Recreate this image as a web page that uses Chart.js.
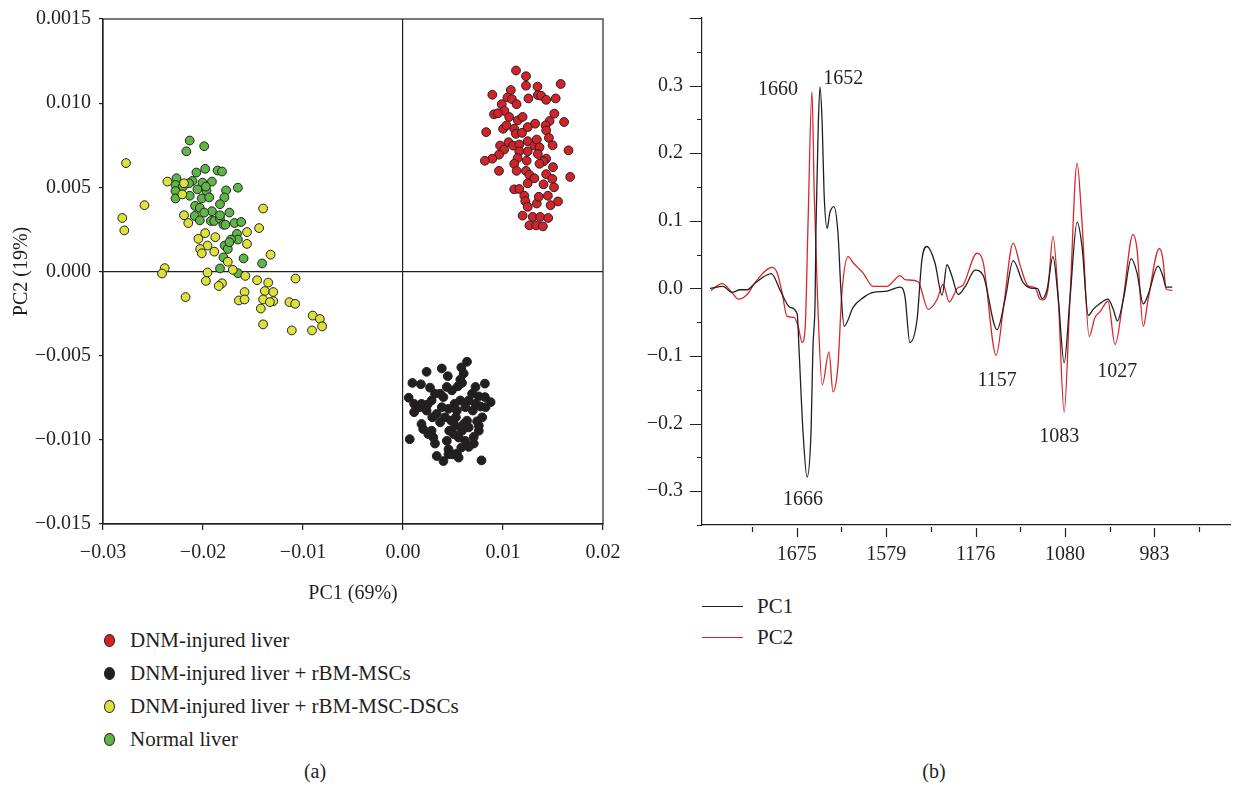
<!DOCTYPE html>
<html lang="en">

<head>
    <meta charset="utf-8">
    <title>PCA of FTIR spectra - scores and loadings</title>
    <script src="https://cdn.jsdelivr.net/npm/chart.js@4.4.1/dist/chart.umd.min.js"></script>
    <style>
        body {
            margin: 0;
            background: #fff;
            width: 1236px;
            height: 786px;
            position: relative;
            overflow: hidden;
            font-family: 'Liberation Serif', 'Times New Roman', serif;
            color: #231f20;
        }

        #pca {
            position: absolute;
            left: 0;
            top: 0;
        }

        #loadings {
            position: absolute;
            left: 640px;
            top: 0;
        }

        .legend {
            position: absolute;
            font-size: 21px;
        }

        .legend .row {
            height: 33px;
            line-height: 33px;
            display: flex;
            align-items: center;
            white-space: nowrap;
        }

        .dot {
            display: inline-block;
            width: 11px;
            height: 13px;
            border-radius: 50%;
            border: 1px solid #231f20;
            box-sizing: border-box;
            margin-right: 15px;
        }

        .swatch {
            display: inline-block;
            width: 41px;
            height: 0;
            border-top: 1.3px solid;
            margin-right: 14px;
        }

        .caption {
            position: absolute;
            top: 760px;
            font-size: 20px;
            width: 60px;
            text-align: center;
        }
    </style>
</head>

<body>
    <canvas id="pca" width="640" height="620"></canvas>
    <canvas id="loadings" width="596" height="580"></canvas>

    <div class="legend" id="pcaLegend" style="left:104px; top:624px;"></div>
    <div class="legend" id="loadLegend" style="left:702px; top:591px;"></div>

    <div class="caption" style="left:285px;">(a)</div>
    <div class="caption" style="left:904px;">(b)</div>

<script>
    // ---- panel (a): PCA scores ----
    const xTickVals = [-0.03, -0.02, -0.01, 0, 0.01, 0.02];
    const xTickLabels = ['\u22120.03', '\u22120.02', '\u22120.01', '0.00', '0.01', '0.02'];
    const yTickVals = [-0.015, -0.01, -0.005, 0, 0.005, 0.01, 0.015];
    const yTickLabels = ['\u22120.015', '\u22120.010', '\u22120.005', '0.000', '0.005', '0.010', '0.0015'];

    const groupNames = ['DNM-injured liver', 'DNM-injured liver + rBM-MSCs',
        'DNM-injured liver + rBM-MSC-DSCs', 'Normal liver'];

    const dnmInjured = [
        [0.0113, 0.01194], [0.0123, 0.0116], [0.0123, 0.01104], [0.01345, 0.01098], [0.01577, 0.01114],
        [0.00893, 0.0105], [0.01078, 0.01078], [0.01045, 0.01034], [0.01089, 0.01024], [0.01136, 0.00994],
        [0.01254, 0.01028], [0.01348, 0.01048], [0.01382, 0.01044], [0.01432, 0.0102], [0.01527, 0.01028],
        [0.00987, 0.00994], [0.01014, 0.00954], [0.0091, 0.00934], [0.0095, 0.0094], [0.01062, 0.00918],
        [0.01149, 0.00898], [0.01196, 0.00918], [0.01513, 0.00938], [0.01466, 0.00894], [0.01426, 0.00868],
        [0.01611, 0.00888], [0.00832, 0.00828], [0.01001, 0.00848], [0.01035, 0.00868], [0.01112, 0.00848],
        [0.01129, 0.00818], [0.0119, 0.00824], [0.01247, 0.00858], [0.01321, 0.00878], [0.01432, 0.00838],
        [0.01459, 0.00794], [0.01496, 0.0075], [0.00971, 0.00748], [0.01011, 0.00724], [0.01055, 0.00768],
        [0.01102, 0.00748], [0.01163, 0.00754], [0.01247, 0.00774], [0.01314, 0.00748], [0.01338, 0.00784],
        [0.01365, 0.00738], [0.01247, 0.00714], [0.01163, 0.00714], [0.0096, 0.00694], [0.00893, 0.0067],
        [0.00819, 0.00658], [0.01146, 0.00674], [0.01237, 0.00658], [0.01348, 0.00698], [0.01432, 0.0067],
        [0.01405, 0.00654], [0.01655, 0.0072], [0.01365, 0.0064], [0.01112, 0.0064], [0.01136, 0.00598],
        [0.0096, 0.00598], [0.0123, 0.00598], [0.01264, 0.00574], [0.01314, 0.00554], [0.01247, 0.00524],
        [0.01432, 0.00578], [0.015, 0.0062], [0.01493, 0.0055], [0.01405, 0.00518], [0.0151, 0.005],
        [0.01672, 0.00562], [0.01112, 0.00488], [0.01163, 0.0049], [0.01213, 0.0045], [0.01223, 0.00418],
        [0.01247, 0.00384], [0.01338, 0.00404], [0.01358, 0.00444], [0.01449, 0.0045], [0.0155, 0.00416],
        [0.01476, 0.00394], [0.01196, 0.00332], [0.01297, 0.00324], [0.01372, 0.00324], [0.01452, 0.00318],
        [0.01264, 0.00274], [0.01331, 0.00274], [0.01399, 0.00268]
    ];

    const dnmMsc = [
        [0.0064, -0.00536], [0.00583, -0.0057], [0.00607, -0.00606], [0.00573, -0.00642], [0.00448, -0.00622],
        [0.00388, -0.00576], [0.00236, -0.00596], [0.00094, -0.00662], [0.00179, -0.0067], [0.0027, -0.0069],
        [0.0032, -0.00726], [0.00057, -0.0075], [0.00111, -0.00786], [0.00185, -0.00786], [0.00246, -0.0079],
        [0.00286, -0.00766], [0.00371, -0.00726], [0.00404, -0.00746], [0.00438, -0.00686], [0.00489, -0.00706],
        [0.00549, -0.00682], [0.0059, -0.00662], [0.00725, -0.00686], [0.00819, -0.00666], [0.00758, -0.00742],
        [0.00819, -0.00746], [0.00876, -0.00776], [0.00725, -0.00786], [0.00775, -0.00802], [0.00698, -0.00826],
        [0.00792, -0.00866], [0.00741, -0.0089], [0.00758, -0.00946], [0.00708, -0.00982], [0.00708, -0.01022],
        [0.00657, -0.01042], [0.00623, -0.01006], [0.0059, -0.00946], [0.00607, -0.00906], [0.0064, -0.00886],
        [0.00529, -0.00866], [0.00522, -0.00916], [0.00506, -0.00966], [0.00556, -0.00986], [0.00583, -0.01046],
        [0.00539, -0.01082], [0.00495, -0.01086], [0.00455, -0.01056], [0.00438, -0.01006], [0.00462, -0.00946],
        [0.00482, -0.00886], [0.00455, -0.00816], [0.00388, -0.00806], [0.00337, -0.00846], [0.00371, -0.00896],
        [0.00293, -0.00866], [0.00236, -0.00826], [0.00169, -0.00806], [0.00111, -0.00836], [0.00185, -0.00906],
        [0.00202, -0.00936], [0.00286, -0.00946], [0.00303, -0.00986], [0.0032, -0.01022], [0.00253, -0.00966],
        [0.00067, -0.00996], [0.00337, -0.01096], [0.00404, -0.01126], [0.00455, -0.01086], [0.00556, -0.01106],
        [0.00785, -0.01122], [0.00623, -0.00806], [0.00573, -0.00766], [0.00516, -0.00786], [0.00421, -0.00866],
        [0.00539, -0.00826], [0.00657, -0.00766], [0.00691, -0.00726], [0.00826, -0.00806], [0.00657, -0.00926],
        [0.00758, -0.00916]
    ];

    const dnmDsc = [
        [-0.0277, 0.00644], [-0.02585, 0.00394], [-0.02807, 0.00318], [-0.02787, 0.00244], [-0.02356, 0.00534],
        [-0.0219, 0.00524], [-0.02207, 0.00458], [-0.0219, 0.00334], [-0.02147, 0.00288], [-0.02046, 0.00194],
        [-0.01978, 0.00228], [-0.01877, 0.00204], [-0.01955, 0.00154], [-0.02029, 0.00134], [-0.02012, 0.00108],
        [-0.01887, 0.00118], [-0.0156, 0.00234], [-0.0156, 0.00164], [-0.01439, 0.00258], [-0.01399, 0.00374],
        [-0.01324, 0.001], [-0.01752, 0.00058], [-0.01702, 0.0001], [-0.01577, -0.00026], [-0.02383, 0.0002],
        [-0.0241, -0.00012], [-0.01955, -0.00006], [-0.01971, -0.00056], [-0.0181, -0.0007], [-0.01843, -0.00086],
        [-0.02174, -0.00152], [-0.01584, -0.00122], [-0.01641, -0.00172], [-0.01584, -0.00166], [-0.01459, -0.00052],
        [-0.01348, -0.00066], [-0.01382, -0.00116], [-0.01399, -0.00166], [-0.01297, -0.00122], [-0.01297, -0.00176],
        [-0.01331, -0.00182], [-0.01422, -0.0022], [-0.01136, -0.00182], [-0.01078, -0.00192], [-0.01075, -0.00042],
        [-0.01399, -0.00314], [-0.01112, -0.0035], [-0.0091, -0.0035], [-0.00903, -0.00262], [-0.00832, -0.00282],
        [-0.00809, -0.00326]
    ];

    const normalLiver = [
        [-0.02133, 0.00778], [-0.01988, 0.00744], [-0.02167, 0.00714], [-0.01978, 0.0061], [-0.02066, 0.00588],
        [-0.01854, 0.006], [-0.0181, 0.00594], [-0.02265, 0.00554], [-0.02106, 0.00538], [-0.02005, 0.00528],
        [-0.01911, 0.00534], [-0.02275, 0.00514], [-0.02201, 0.00504], [-0.02056, 0.00488], [-0.01965, 0.00478],
        [-0.01769, 0.00482], [-0.01651, 0.00498], [-0.02275, 0.00478], [-0.02133, 0.0045], [-0.02012, 0.00434],
        [-0.01938, 0.0044], [-0.01786, 0.0044], [-0.02079, 0.0039], [-0.02032, 0.00378], [-0.0183, 0.004],
        [-0.01911, 0.00358], [-0.01736, 0.0035], [-0.02083, 0.0033], [-0.01988, 0.0035], [-0.02032, 0.00304],
        [-0.01921, 0.003], [-0.01887, 0.003], [-0.0183, 0.00314], [-0.01796, 0.00278], [-0.01776, 0.00278],
        [-0.01685, 0.00288], [-0.01618, 0.00294], [-0.0183, 0.00334], [-0.01661, 0.00224], [-0.01651, 0.0019],
        [-0.01719, 0.0019], [-0.01783, 0.00154], [-0.01752, 0.00134], [-0.01736, 0.00174], [-0.01594, 0.00078],
        [-0.01796, 0.00084], [-0.01409, 0.00048], [-0.0183, 0.00018], [-0.01651, -0.0001], [-0.02275, 0.00434],
        [-0.0214, 0.00524], [-0.01971, 0.00504]
    ];

    // ---- panel (b): PC loadings ----
    // x is the position along the plotted axis, in tick steps (0 = first tick)
    const specTickPos = [0, 1, 2, 3, 4, 5, 6, 7, 8, 9, 10];
    const specTickLabels = ['', '1675', '', '1579', '', '1176', '', '1080', '', '983', ''];
    const specYTickVals = [-0.35, -0.3, -0.25, -0.2, -0.15, -0.1, -0.05, 0, 0.05, 0.1, 0.15, 0.2, 0.25, 0.3, 0.35, 0.4];
    const specYTickLabels = ['', '\u22120.3', '', '\u22120.2', '', '\u22120.1', '', '0.0', '', '0.1', '', '0.2', '', '0.3', '', ''];

    const pc1 = [
        [-0.94, 0.0], [-0.65, 0.003], [-0.45, -0.006], [-0.27, -0.002], [-0.11, -0.002], [0.07, 0.008],
        [0.43, 0.022], [0.63, -0.003], [0.85, -0.028], [1.01, -0.038], [1.05, -0.09], [1.14, -0.213],
        [1.23, -0.279], [1.32, -0.21], [1.36, -0.09], [1.41, -0.016], [1.43, 0.092], [1.48, 0.24],
        [1.52, 0.298], [1.57, 0.24], [1.61, 0.142], [1.68, 0.089], [1.74, 0.112], [1.83, 0.121],
        [1.92, 0.083], [1.99, -0.006], [2.06, -0.056], [2.26, -0.028], [2.48, -0.014], [2.71, -0.006],
        [3.02, -0.004], [3.31, 0.002], [3.42, -0.012], [3.53, -0.08], [3.69, -0.046], [3.8, 0.043],
        [3.91, 0.062], [4.09, 0.038], [4.25, -0.01], [4.36, 0.035], [4.47, 0.018], [4.61, -0.009],
        [4.77, 0.003], [4.99, 0.027], [5.17, 0.019], [5.48, -0.061], [5.66, -0.016], [5.84, 0.041],
        [6.06, 0.009], [6.29, 0.0], [6.38, 0.0], [6.49, -0.015], [6.6, -0.001], [6.73, 0.047],
        [6.85, -0.016], [6.98, -0.11], [7.11, -0.016], [7.27, 0.098], [7.38, 0.062], [7.52, -0.04],
        [7.63, -0.031], [7.79, -0.022], [7.96, -0.016], [8.08, -0.031], [8.17, -0.048], [8.32, -0.011],
        [8.48, 0.044], [8.61, 0.023], [8.75, -0.023], [8.86, -0.009], [9.08, 0.033], [9.19, 0.018],
        [9.26, 0.002], [9.4, 0.002]
    ];

    const pc2 = [
        [-0.92, -0.003], [-0.67, 0.007], [-0.45, -0.006], [-0.31, -0.016], [-0.11, -0.009], [0.07, 0.009],
        [0.45, 0.031], [0.56, 0.023], [0.67, -0.006], [0.78, -0.041], [0.94, -0.043], [1.03, -0.056],
        [1.12, -0.08], [1.19, -0.056], [1.25, 0.092], [1.34, 0.291], [1.39, 0.14], [1.46, -0.006],
        [1.57, -0.143], [1.72, -0.094], [1.81, -0.153], [1.92, -0.115], [2.01, -0.006], [2.15, 0.047],
        [2.26, 0.038], [2.48, 0.023], [2.71, 0.003], [3.02, 0.003], [3.31, 0.019], [3.42, 0.013],
        [3.71, 0.01], [3.94, -0.031], [4.14, -0.016], [4.27, 0.006], [4.41, -0.02], [4.59, 0.0],
        [4.72, 0.005], [5.03, 0.052], [5.17, 0.038], [5.46, -0.099], [5.62, -0.03], [5.84, 0.067],
        [6.0, 0.033], [6.17, 0.004], [6.33, 0.001], [6.44, -0.016], [6.51, -0.017], [6.62, 0.0],
        [6.73, 0.077], [6.85, -0.016], [6.98, -0.183], [7.11, -0.016], [7.27, 0.185], [7.38, 0.097],
        [7.54, -0.071], [7.67, -0.043], [7.79, -0.034], [7.96, -0.019], [8.12, -0.083], [8.3, -0.016],
        [8.52, 0.08], [8.61, 0.058], [8.75, -0.056], [8.86, -0.016], [9.11, 0.059], [9.19, 0.043],
        [9.26, -0.001], [9.4, -0.003]
    ];

    const peakLabels = ['1660', '1652', '1666', '1157', '1083', '1027'];
    const peakPos = [0.58, 2.04, 1.14, 5.48, 6.87, 8.17];
    const peakVal = [0.294, 0.31, -0.313, -0.137, -0.219, -0.123];

    // ---- styles ----
    const ink = '#231f20';
    const serif = "'Liberation Serif', 'Times New Roman', serif";
    const tickFont = { family: serif, size: 20 };
    const groupColors = ['#d3232a', '#231f20', '#dce23c', '#5db646'];
    const lineColors = ['#231f20', '#d9272e'];

    // keep the plot areas where the layout padding puts them
    let noLabelPadding = s => {
        s.paddingTop = 0;
        s.paddingBottom = 0;
        s.paddingLeft = 0;
        s.paddingRight = 0;
    };

    let frame = {
        id: 'frame',
        afterDraw(chart) {
            const { ctx, chartArea: a } = chart;
            ctx.save();
            ctx.strokeStyle = ink;
            ctx.lineWidth = 1.2;
            ctx.strokeRect(a.left, a.top, a.right - a.left, a.bottom - a.top);
            ctx.restore();
        }
    };

    let pcaChart = new Chart(document.getElementById('pca'), {
        type: 'scatter',
        data: {
            datasets: [dnmInjured, dnmMsc, dnmDsc, normalLiver].map((pts, i) => ({
                label: groupNames[i],
                data: pts.map(p => ({ x: p[0], y: p[1] })),
                backgroundColor: groupColors[i],
                borderColor: ink,
                borderWidth: 1,
                pointRadius: 4.4
            }))
        },
        options: {
            responsive: false,
            animation: false,
            layout: { padding: { top: 19, right: 37, left: 0, bottom: 0 } },
            plugins: { legend: { display: false }, tooltip: { enabled: false } },
            scales: {
                x: {
                    type: 'linear',
                    min: -0.03,
                    max: 0.02,
                    afterBuildTicks: s => { s.ticks = xTickVals.map(v => ({ value: v })); },
                    afterFit: s => { s.height = 96; noLabelPadding(s); },
                    border: { color: ink, width: 1.2 },
                    grid: {
                        color: c => (c.tick && Math.abs(c.tick.value) < 1e-9) ? ink : 'rgba(0,0,0,0)',
                        lineWidth: 1.2,
                        tickColor: ink,
                        tickWidth: 1.2,
                        tickLength: 6
                    },
                    ticks: {
                        callback: (v, i) => xTickLabels[i],
                        color: ink, font: tickFont, padding: 11, maxRotation: 0, autoSkip: false
                    },
                    title: { display: true, text: 'PC1 (69%)', color: ink, font: tickFont, padding: { bottom: 14 } }
                },
                y: {
                    type: 'linear',
                    min: -0.015,
                    max: 0.015,
                    afterBuildTicks: s => { s.ticks = yTickVals.map(v => ({ value: v })); },
                    afterFit: s => { s.width = 103; noLabelPadding(s); },
                    border: { color: ink, width: 1.2 },
                    grid: {
                        color: c => (c.tick && Math.abs(c.tick.value) < 1e-9) ? ink : 'rgba(0,0,0,0)',
                        lineWidth: 1.2,
                        tickColor: ink,
                        tickWidth: 1.2,
                        tickLength: 4
                    },
                    ticks: {
                        callback: (v, i) => yTickLabels[i],
                        color: ink, font: tickFont, padding: 8, autoSkip: false
                    },
                    title: { display: true, text: 'PC2 (19%)', color: ink, font: tickFont, padding: { top: 10 } }
                }
            }
        },
        plugins: [frame]
    });

    let spectrumDecor = {
        id: 'spectrumDecor',
        afterDraw(chart) {
            const { ctx, scales: { x, y } } = chart;
            ctx.save();
            ctx.strokeStyle = ink;
            ctx.lineWidth = 1.2;
            ctx.beginPath();
            x.ticks.forEach((t, i) => {
                const px = Math.round(x.getPixelForValue(t.value)) + 0.5;
                const major = specTickLabels[i] !== '';
                ctx.moveTo(px, y.bottom + (major ? 3 : 2));
                ctx.lineTo(px, y.bottom + (major ? 12 : 7));
            });
            y.ticks.forEach(t => {
                const py = Math.round(y.getPixelForValue(t.value)) + 0.5;
                const major = Math.abs(t.value * 10 - Math.round(t.value * 10)) < 1e-6;
                ctx.moveTo(x.left, py);
                ctx.lineTo(x.left - (major ? 12 : 5), py);
            });
            ctx.stroke();
            ctx.fillStyle = ink;
            ctx.font = '20px ' + serif;
            ctx.textAlign = 'center';
            ctx.textBaseline = 'middle';
            peakLabels.forEach((s, i) => {
                ctx.fillText(s, x.getPixelForValue(peakPos[i]), y.getPixelForValue(peakVal[i]));
            });
            ctx.restore();
        }
    };

    let loadChart = new Chart(document.getElementById('loadings'), {
        type: 'line',
        data: {
            datasets: [pc1, pc2].map((pts, i) => ({
                label: 'PC' + (i + 1),
                data: pts.map(p => ({ x: p[0], y: p[1] })),
                borderColor: lineColors[i],
                borderWidth: 1.3,
                pointRadius: 0,
                fill: false,
                cubicInterpolationMode: 'monotone'
            }))
        },
        options: {
            responsive: false,
            animation: false,
            layout: { padding: { top: 18, right: 6, left: 0, bottom: 0 } },
            plugins: { legend: { display: false }, tooltip: { enabled: false } },
            scales: {
                x: {
                    type: 'linear',
                    min: -1.12,
                    max: 10.69,
                    afterBuildTicks: s => { s.ticks = specTickPos.map(v => ({ value: v })); },
                    afterFit: s => { s.height = 55; noLabelPadding(s); },
                    border: { color: ink, width: 1.2 },
                    grid: { display: false, drawTicks: false, tickLength: 0 },
                    ticks: {
                        callback: (v, i) => specTickLabels[i],
                        color: ink, font: tickFont, padding: 18, maxRotation: 0, autoSkip: false
                    }
                },
                y: {
                    type: 'linear',
                    min: -0.35,
                    max: 0.4,
                    afterBuildTicks: s => { s.ticks = specYTickVals.map(v => ({ value: v })); },
                    afterFit: s => { s.width = 62; noLabelPadding(s); },
                    border: { color: ink, width: 1.2 },
                    grid: { display: false, drawTicks: false, tickLength: 0 },
                    ticks: {
                        callback: (v, i) => specYTickLabels[i],
                        color: ink, font: tickFont, padding: 19, autoSkip: false
                    }
                }
            }
        },
        plugins: [spectrumDecor]
    });

    // HTML legends
    let pcaLegend = document.getElementById('pcaLegend');
    groupNames.forEach((name, i) => {
        let row = document.createElement('div');
        row.className = 'row';
        row.innerHTML = '<span class="dot" style="background:' + groupColors[i] + '"></span>' + name;
        pcaLegend.appendChild(row);
    });

    let loadLegend = document.getElementById('loadLegend');
    ['PC1', 'PC2'].forEach((name, i) => {
        let row = document.createElement('div');
        row.className = 'row';
        row.style.height = '31px';
        row.style.lineHeight = '31px';
        row.innerHTML = '<span class="swatch" style="border-color:' + lineColors[i] + '"></span>' + name;
        loadLegend.appendChild(row);
    });
</script>
</body>

</html>
